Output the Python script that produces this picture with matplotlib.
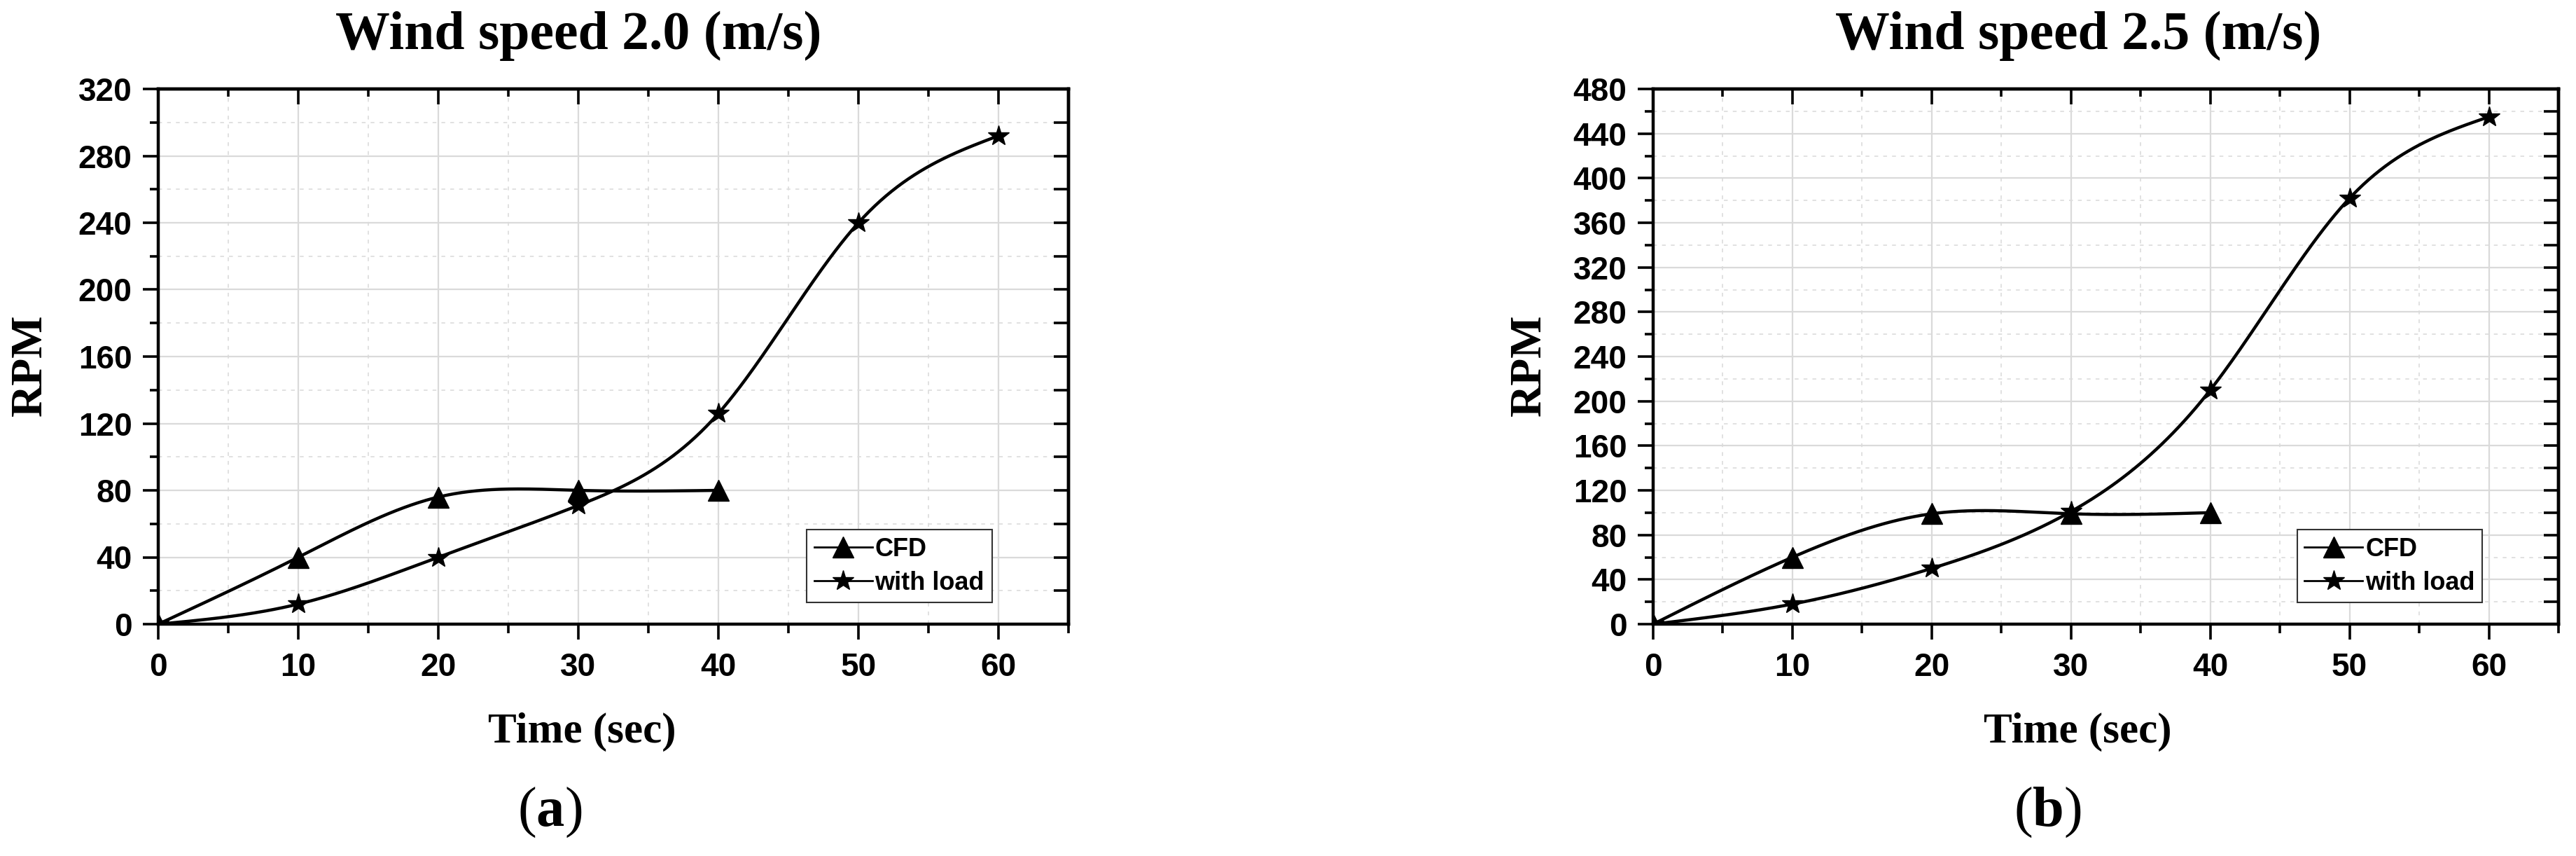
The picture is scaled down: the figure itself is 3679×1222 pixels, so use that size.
import numpy as np
import matplotlib
matplotlib.use("Agg")
import matplotlib.pyplot as plt
from matplotlib.ticker import MultipleLocator

# data
time_cfd = [0, 10, 20, 30, 40]
time_load = [0, 10, 20, 30, 40, 50, 60]

rpm_cfd_20 = [0, 40, 76, 80, 80]
rpm_load_20 = [0, 12, 40, 71, 126, 240, 292]

rpm_cfd_25 = [0, 60, 99, 99, 100]
rpm_load_25 = [0, 18, 50, 101, 210, 382, 455]

titles = ["Wind speed 2.0 (m/s)", "Wind speed 2.5 (m/s)"]
panel_tags = ["a", "b"]
ymax = [320, 480]

plt.rcParams['mathtext.fontset'] = 'custom'
plt.rcParams['mathtext.rm'] = 'Liberation Serif'
plt.rcParams['mathtext.bf'] = 'Liberation Serif:bold'

SERIF = "Liberation Serif"
SANS = "Liberation Sans"


def spline_curve(x, y, n=300):
    # natural cubic spline, only for drawing the smooth connecting line
    x = np.asarray(x, float)
    y = np.asarray(y, float)
    k = len(x)
    h = np.diff(x)
    A = np.zeros((k, k))
    r = np.zeros(k)
    A[0, 0] = A[-1, -1] = 1
    for i in range(1, k - 1):
        A[i, i - 1] = h[i - 1]
        A[i, i] = 2 * (h[i - 1] + h[i])
        A[i, i + 1] = h[i]
        r[i] = 6 * ((y[i + 1] - y[i]) / h[i] - (y[i] - y[i - 1]) / h[i - 1])
    M = np.linalg.solve(A, r)
    xs = np.linspace(x[0], x[-1], n)
    idx = np.clip(np.searchsorted(x, xs) - 1, 0, k - 2)
    x0, x1 = x[idx], x[idx + 1]
    hh = x1 - x0
    ys = (M[idx] * (x1 - xs) ** 3 / (6 * hh) + M[idx + 1] * (xs - x0) ** 3 / (6 * hh)
          + (y[idx] / hh - M[idx] * hh / 6) * (x1 - xs)
          + (y[idx + 1] / hh - M[idx + 1] * hh / 6) * (xs - x0))
    return xs, ys


fig = plt.figure(figsize=(36.8, 12.22), dpi=100)

W, H = 3680.0, 1222.0
axes_px = [(226, 1526), (2361, 3654)]
top_px, bot_px = 127, 891

title_x = [826, 2968]
ylab_x = [44, 2185]
xlab_x = [831, 2967]
tag_x = [785, 2924]

series = [(rpm_cfd_20, rpm_load_20), (rpm_cfd_25, rpm_load_25)]

for p in range(2):
    l, r = axes_px[p]
    ax = fig.add_axes([l / W, 1 - bot_px / H, (r - l) / W, (bot_px - top_px) / H])
    cfd, load = series[p]

    xs, ys = spline_curve(time_cfd, cfd)
    ax.plot(xs, ys, color="black", lw=3.2, zorder=3)
    ax.plot(time_cfd, cfd, ls="none", marker="^", ms=21, color="black", zorder=4)
    xs, ys = spline_curve(time_load, load)
    ax.plot(xs, ys, color="black", lw=3.2, zorder=3)
    ax.plot(time_load, load, ls="none", marker="*", ms=22, color="black", zorder=4)

    # legend proxies (line + marker)
    h1, = ax.plot([], [], color="black", lw=2, marker="^", ms=21, label="CFD")
    h2, = ax.plot([], [], color="black", lw=2, marker="*", ms=22, label="with load")

    ax.set_xlim(0, 65)
    ax.set_ylim(0, ymax[p])
    ax.xaxis.set_major_locator(MultipleLocator(10))
    ax.xaxis.set_minor_locator(MultipleLocator(5))
    ax.yaxis.set_major_locator(MultipleLocator(40))
    ax.yaxis.set_minor_locator(MultipleLocator(20))
    ax.set_xticks(range(0, 61, 10))

    ax.set_axisbelow(True)
    ax.grid(which="major", color="#dadada", lw=1.6)
    ax.grid(which="minor", color="#dedede", lw=1.3, ls=(0, (3, 4)))

    for s in ax.spines.values():
        s.set_linewidth(3.2)
    ax.tick_params(which="major", direction="out", length=16, width=2.6,
                   labelsize=33, pad=11, top=False, right=False)
    ax.tick_params(which="minor", direction="out", length=9, width=2.6,
                   top=False, right=False)
    ax.tick_params(axis="x", which="major", pad=13)
    for t in ax.get_xticklabels() + ax.get_yticklabels():
        t.set_fontfamily(SANS)
        t.set_fontweight("bold")

    # inward ticks on top and right
    sx = ax.secondary_xaxis("top")
    sx.set_zorder(5)
    sx.xaxis.set_major_locator(MultipleLocator(10))
    sx.xaxis.set_minor_locator(MultipleLocator(5))
    sx.set_xticks(range(0, 61, 10))
    sx.tick_params(which="major", direction="in", length=16, width=2.6, labeltop=False)
    sx.tick_params(which="minor", direction="in", length=8, width=2.6)
    sx.spines["top"].set_linewidth(3.2)
    sy = ax.secondary_yaxis("right")
    sy.set_zorder(5)
    sy.yaxis.set_major_locator(MultipleLocator(40))
    sy.yaxis.set_minor_locator(MultipleLocator(20))
    sy.tick_params(which="both", direction="in", length=15, width=2.6, labelright=False)
    sy.spines["right"].set_linewidth(3.2)

    leg = ax.legend(handles=[h1, h2], loc="lower right", bbox_to_anchor=(0.916, 0.04),
                    prop={"family": SANS, "weight": "bold", "size": 26},
                    frameon=True, fancybox=False, framealpha=1, edgecolor="#333333",
                    handlelength=2.3, handletextpad=0.1, borderpad=0.3,
                    labelspacing=0.35, borderaxespad=0, numpoints=1)
    leg.get_frame().set_linewidth(1.5)
    leg.set_zorder(6)

    fig.text(title_x[p] / W, 1 - 51 / H, titles[p], ha="center", va="center",
             family=SERIF, weight="bold", fontsize=56)
    fig.text(ylab_x[p] / W, 1 - 521 / H, "RPM", ha="center", va="center",
             rotation=90, family=SERIF, weight="bold", fontsize=46)
    fig.text(xlab_x[p] / W, 1 - 1045 / H, "Time (sec)", ha="center", va="center",
             family=SERIF, weight="bold", fontsize=44)
    fig.text(tag_x[p] / W, 1 - 1160 / H, r"($\mathbf{%s}$)" % panel_tags[p],
             ha="center", va="center", family=SERIF, fontsize=58)

fig.savefig("out.png", dpi=100, facecolor="white")
